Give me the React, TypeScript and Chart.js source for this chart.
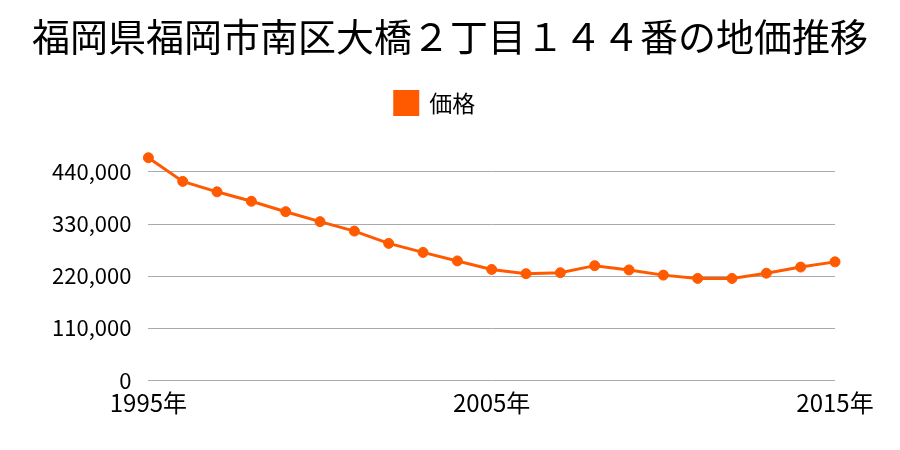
import React, { useEffect, useRef } from "react";
import { Chart, registerables } from "chart.js";

Chart.register(...registerables);

const years = ["1995年","1996年","1997年","1998年","1999年","2000年","2001年","2002年","2003年","2004年","2005年","2006年","2007年","2008年","2009年","2010年","2011年","2012年","2013年","2014年","2015年"];
const prices = [470000,420000,398000,378000,356000,335000,315000,289000,270000,252000,234000,225000,227000,242000,233000,222000,215000,215000,226000,239000,250000];
const yTickValues = [0, 110000, 220000, 330000, 440000];
const shownYearLabels = ["1995年","2005年","2015年"];
const titleText = "福岡県福岡市南区大橋２丁目１４４番の地価推移";
const seriesName = "価格";

const FONT = "'Noto Sans CJK JP', 'Noto Sans', sans-serif";
const ORANGE = "#ff5a00";

const centerTitle = {
  id: "centerTitle",
  afterLayout(chart: any) {
    const t = chart.titleBlock;
    if (t) {
      t.left = 0;
      t.right = chart.width;
      t.width = chart.width;
    }
  },
};

export default function App() {
  const ref = useRef<HTMLCanvasElement>(null);
  useEffect(() => {
    document.body.style.margin = "0";
    const chart = new Chart(ref.current!, {
      type: "line",
      data: {
        labels: years,
        datasets: [{
          label: seriesName,
          data: prices,
          borderColor: ORANGE,
          backgroundColor: ORANGE,
          pointBackgroundColor: ORANGE,
          pointBorderColor: ORANGE,
          borderWidth: 3,
          pointRadius: 5,
          pointBorderWidth: 1,
          tension: 0,
        }],
      },
      options: {
        animation: false,
        responsive: false,
        layout: { padding: { left: 35, right: 65, top: 8, bottom: 33 } },
        plugins: {
          title: { display: true, text: titleText, font: { family: FONT, size: 38, weight: "normal" }, color: "#000", padding: { top: 6, bottom: 22 } },
          legend: {
            display: true,
            labels: { font: { family: FONT, size: 23 }, color: "#000", boxWidth: 23, boxHeight: 23, padding: 10 },
          },
          tooltip: { enabled: false },
        },
        scales: {
          x: {
            offset: false,
            grid: { display: false },
            border: { display: false },
            ticks: {
              autoSkip: false,
              maxRotation: 0,
              font: { family: FONT, size: 24 },
              color: "#000",
              padding: 0,
              callback: function (this: any, val: any) {
                const l = years[val as number];
                return shownYearLabels.includes(l) ? l : "";
              },
            },
          },
          y: {
            min: 0,
            max: 540000,
            afterBuildTicks: (axis: any) => {
              axis.ticks = yTickValues.map((v) => ({ value: v }));
            },
            grid: { color: "#aaaaaa", lineWidth: 1, drawTicks: false },
            border: { display: false },
            ticks: {
              font: { family: FONT, size: 22 },
              color: "#000",
              padding: 17,
              callback: (v: any) => Number(v).toLocaleString("en-US"),
            },
          },
        },
      },
      plugins: [centerTitle],
    });
    return () => chart.destroy();
  }, []);
  return (
    <div style={{ width: 900, height: 450 }}>
      <canvas ref={ref} width={900} height={450} style={{ width: 900, height: 450, display: "block" }} />
    </div>
  );
}
